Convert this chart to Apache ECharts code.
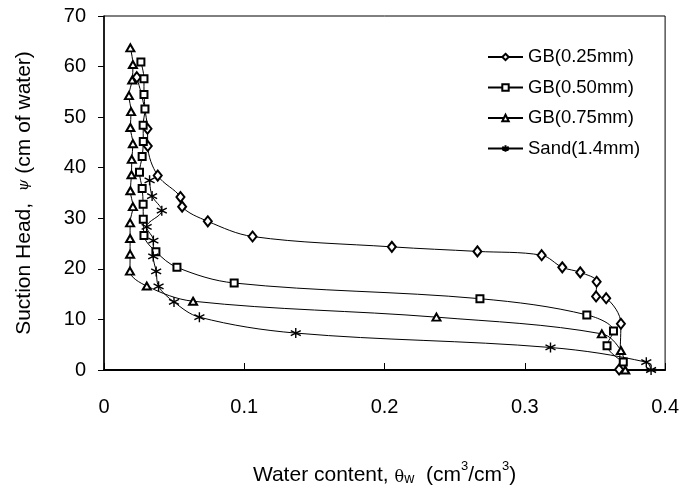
<!DOCTYPE html>
<html>
<head>
<meta charset="utf-8">
<script src="https://cdn.jsdelivr.net/npm/echarts@6/dist/echarts.min.js"></script>
<style>html,body{margin:0;padding:0;background:#fff}#c{width:682px;height:491px}</style>
</head>
<body>
<div id="c"></div>
<script>
var seriesNames = ['GB(0.25mm)', 'GB(0.50mm)', 'GB(0.75mm)', 'Sand(1.4mm)'];
var xTicks = [0, 0.1, 0.2, 0.3, 0.4];
var yTicks = [0, 10, 20, 30, 40, 50, 60, 70];

var gb025X = [0.0234,0.031,0.0312,0.0383,0.0545,0.0557,0.074,0.1059,0.2052,0.2662,0.312,0.3267,0.3395,0.3512,0.3508,0.358,0.3685,0.3672];
var gb025Y = [57.9,47.7,44.3,38.45,34.2,32.3,29.4,26.4,24.35,23.45,22.7,20.3,19.3,17.45,14.55,14.2,9.15,0.1];

var gb050X = [0.0263,0.0285,0.0285,0.0292,0.0279,0.028,0.0272,0.0253,0.0272,0.0279,0.028,0.0285,0.037,0.052,0.0928,0.268,0.3442,0.3632,0.3586,0.3702];
var gb050Y = [60.9,57.6,54.5,51.6,48.4,45.2,42.2,39.1,35.9,32.8,29.8,26.6,23.4,20.3,17.2,14.1,10.9,7.7,4.8,1.6];

var gb075X = [0.0188,0.0206,0.0201,0.0178,0.0193,0.0188,0.0206,0.0198,0.0196,0.0188,0.0206,0.0186,0.0186,0.0186,0.0185,0.0305,0.0635,0.237,0.3549,0.3685,0.3716];
var gb075Y = [63.7,60.4,57.35,54.25,51.1,47.95,44.75,41.65,38.6,35.45,32.3,29.1,26.0,22.9,19.55,16.6,13.6,10.45,7.15,3.85,0];

var sandX = [0.0325,0.0343,0.0412,0.0304,0.0352,0.0351,0.0372,0.0389,0.0499,0.068,0.1367,0.3183,0.3866,0.390];
var sandY = [37.5,34.4,31.5,28.3,25.6,22.45,19.5,16.55,13.45,10.45,7.3,4.45,1.55,0];

function pairs(xs, ys) { return xs.map(function (x, i) { return [x, ys[i]]; }); }

var FONT = '"Liberation Sans", Arial, sans-serif';
var asterisk = 'path://M5,0L5,10M0.67,2.5L9.33,7.5M0.67,7.5L9.33,2.5';

function mk(name, data, symbol, size, bw) {
  return {
    name: name, type: 'line', data: data, smooth: 0.35,
    symbol: symbol, symbolSize: size,
    showAllSymbol: true,
    lineStyle: { color: '#000', width: 1 },
    itemStyle: { color: '#000', borderColor: '#000', borderWidth: bw || 1 },
    emphasis: { disabled: true },
    animation: false
  };
}

var chart = echarts.init(document.getElementById('c'));
chart.setOption({
  backgroundColor: '#fff',
  animation: false,
  textStyle: { fontFamily: FONT },
  grid: { left: 104, right: 14, top: 16, bottom: 116, show: true, borderColor: '#000', borderWidth: 1 },
  legend: {
    orient: 'vertical', left: 487, top: 47, padding: 0,
    itemWidth: 35, itemHeight: 8, itemGap: 10.5,
    textStyle: { fontSize: 18.5, color: '#000', fontFamily: FONT, lineHeight: 20 },
    data: seriesNames
  },
  xAxis: {
    type: 'value', min: xTicks[0], max: xTicks[xTicks.length - 1], interval: xTicks[1] - xTicks[0],
    axisLine: { lineStyle: { color: '#000', width: 2 } },
    axisTick: { inside: true, length: 7, lineStyle: { color: '#000', width: 1 } },
    axisLabel: { fontSize: 20, color: '#000', margin: 27, fontFamily: FONT },
    splitLine: { show: false },
    name: '{a|Water content, }{g|θ}{s|w}{a|  (cm}{p|3}{a|/cm}{p|3}{a|)}',
    nameLocation: 'middle', nameGap: 90,
    nameTextStyle: {
      rich: {
        a: { fontSize: 21, color: '#000', fontFamily: FONT, verticalAlign: 'bottom', lineHeight: 26 },
        g: { fontSize: 16, color: '#000', fontFamily: '"DejaVu Serif", serif', verticalAlign: 'bottom', lineHeight: 24 },
        s: { fontSize: 14, color: '#000', fontFamily: FONT, verticalAlign: 'bottom', lineHeight: 22 },
        p: { fontSize: 13, color: '#000', fontFamily: FONT, verticalAlign: 'top', lineHeight: 26 }
      }
    }
  },
  yAxis: {
    type: 'value', min: yTicks[0], max: yTicks[yTicks.length - 1], interval: yTicks[1] - yTicks[0],
    axisLine: { lineStyle: { color: '#000', width: 1.5 } },
    axisTick: { inside: false, length: 6, lineStyle: { color: '#000', width: 1 } },
    axisLabel: { fontSize: 20, color: '#000', margin: 18, fontFamily: FONT },
    splitLine: { show: false },
    name: '{a|Suction Head,  }{g|ψ}{a| (cm of water)}',
    nameLocation: 'middle', nameGap: 69,
    nameTextStyle: {
      rich: {
        a: { fontSize: 21, color: '#000', fontFamily: FONT },
        g: { fontSize: 15, color: '#000', fontFamily: '"DejaVu Serif", serif', fontStyle: 'italic' }
      }
    }
  },
  series: [
    mk(seriesNames[0], pairs(gb025X, gb025Y), 'emptyDiamond', [8, 10]),
    mk(seriesNames[1], pairs(gb050X, gb050Y), 'emptyRect', 7),
    mk(seriesNames[2], pairs(gb075X, gb075Y), 'emptyTriangle', [8, 7]),
    mk(seriesNames[3], pairs(sandX, sandY), asterisk, 10, 1.4)
  ]
});
</script>
</body>
</html>
